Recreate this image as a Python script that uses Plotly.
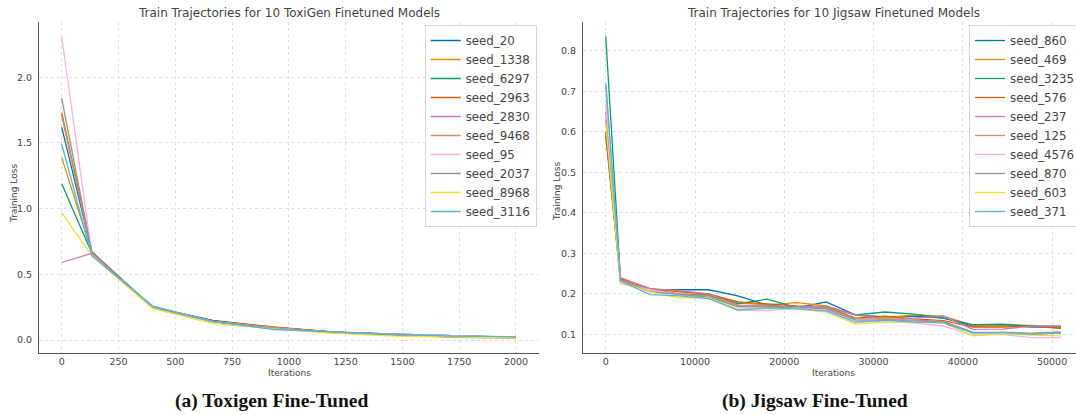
import plotly.graph_objects as go

# ---------------- data ----------------
tox_iters = [0, 133, 400, 667, 933, 1200, 1467, 1733, 2000]
tox_seeds = ["seed_20", "seed_1338", "seed_6297", "seed_2963", "seed_2830",
             "seed_9468", "seed_95", "seed_2037", "seed_8968", "seed_3116"]
tox_seed_20 = [1.62, 0.67, 0.25, 0.145, 0.095, 0.060, 0.045, 0.030, 0.020]
tox_seed_1338 = [1.39, 0.66, 0.245, 0.140, 0.095, 0.055, 0.040, 0.025, 0.020]
tox_seed_6297 = [1.19, 0.66, 0.250, 0.150, 0.095, 0.060, 0.045, 0.030, 0.020]
tox_seed_2963 = [1.73, 0.67, 0.245, 0.145, 0.100, 0.060, 0.040, 0.020, 0.015]
tox_seed_2830 = [0.59, 0.66, 0.250, 0.140, 0.090, 0.055, 0.045, 0.030, 0.020]
tox_seed_9468 = [1.71, 0.66, 0.245, 0.140, 0.095, 0.055, 0.040, 0.025, 0.015]
tox_seed_95 = [2.31, 0.65, 0.250, 0.140, 0.090, 0.055, 0.045, 0.030, 0.020]
tox_seed_2037 = [1.84, 0.66, 0.250, 0.140, 0.090, 0.055, 0.040, 0.025, 0.020]
tox_seed_8968 = [0.97, 0.64, 0.240, 0.125, 0.085, 0.050, 0.030, 0.020, 0.015]
tox_seed_3116 = [1.49, 0.64, 0.260, 0.140, 0.080, 0.060, 0.045, 0.030, 0.025]
tox_values = [tox_seed_20, tox_seed_1338, tox_seed_6297, tox_seed_2963, tox_seed_2830,
              tox_seed_9468, tox_seed_95, tox_seed_2037, tox_seed_8968, tox_seed_3116]

jig_iters = [0, 1645, 4935, 8225, 11515, 14805, 18095, 21385, 24675, 27965,
             31255, 34545, 37835, 41125, 44415, 47705, 51000]
jig_seeds = ["seed_860", "seed_469", "seed_3235", "seed_576", "seed_237",
             "seed_125", "seed_4576", "seed_870", "seed_603", "seed_371"]
jig_seed_860 = [0.59, 0.235, 0.210, 0.210, 0.210, 0.195, 0.172, 0.165, 0.180, 0.148, 0.143, 0.145, 0.140, 0.120, 0.122, 0.118, 0.118]
jig_seed_469 = [0.60, 0.232, 0.210, 0.200, 0.198, 0.178, 0.172, 0.178, 0.170, 0.148, 0.140, 0.148, 0.145, 0.122, 0.123, 0.122, 0.115]
jig_seed_3235 = [0.835, 0.238, 0.212, 0.198, 0.196, 0.175, 0.187, 0.166, 0.168, 0.148, 0.155, 0.150, 0.140, 0.124, 0.125, 0.120, 0.120]
jig_seed_576 = [0.60, 0.238, 0.213, 0.205, 0.200, 0.180, 0.175, 0.170, 0.168, 0.140, 0.145, 0.138, 0.134, 0.118, 0.118, 0.120, 0.115]
jig_seed_237 = [0.65, 0.240, 0.213, 0.208, 0.200, 0.172, 0.170, 0.168, 0.168, 0.148, 0.137, 0.140, 0.145, 0.112, 0.113, 0.120, 0.120]
jig_seed_125 = [0.715, 0.235, 0.210, 0.200, 0.195, 0.170, 0.168, 0.165, 0.165, 0.138, 0.138, 0.135, 0.132, 0.105, 0.105, 0.103, 0.106]
jig_seed_4576 = [0.67, 0.225, 0.210, 0.198, 0.190, 0.160, 0.158, 0.165, 0.160, 0.130, 0.132, 0.128, 0.120, 0.098, 0.100, 0.092, 0.092]
jig_seed_870 = [0.63, 0.232, 0.205, 0.198, 0.192, 0.168, 0.168, 0.168, 0.163, 0.135, 0.135, 0.132, 0.130, 0.105, 0.103, 0.100, 0.103]
jig_seed_603 = [0.62, 0.228, 0.205, 0.190, 0.190, 0.162, 0.163, 0.163, 0.155, 0.125, 0.130, 0.130, 0.128, 0.096, 0.102, 0.098, 0.096]
jig_seed_371 = [0.72, 0.232, 0.198, 0.195, 0.188, 0.160, 0.165, 0.163, 0.158, 0.130, 0.135, 0.130, 0.128, 0.103, 0.105, 0.100, 0.106]
jig_values = [jig_seed_860, jig_seed_469, jig_seed_3235, jig_seed_576, jig_seed_237,
              jig_seed_125, jig_seed_4576, jig_seed_870, jig_seed_603, jig_seed_371]

tox_xticks = [0, 250, 500, 750, 1000, 1250, 1500, 1750, 2000]
tox_yticks = [0.0, 0.5, 1.0, 1.5, 2.0]
jig_xticks = [0, 10000, 20000, 30000, 40000, 50000]
jig_yticks = [0.1, 0.2, 0.3, 0.4, 0.5, 0.6, 0.7, 0.8]

colors = ["#0173b2", "#de8f05", "#029e73", "#d55e00", "#cc78bc",
          "#ca9161", "#fbafe4", "#949494", "#ece133", "#56b4e9"]

# ---------------- figure ----------------
W, H = 1076, 415
fig = go.Figure()

for name, vals, c in zip(tox_seeds, tox_values, colors):
    fig.add_trace(go.Scatter(x=tox_iters, y=vals, mode="lines", name=name,
                             line=dict(color=c, width=1.3),
                             xaxis="x", yaxis="y", legend="legend"))
for name, vals, c in zip(jig_seeds, jig_values, colors):
    fig.add_trace(go.Scatter(x=jig_iters, y=vals, mode="lines", name=name,
                             line=dict(color=c, width=1.3),
                             xaxis="x2", yaxis="y2", legend="legend2"))

TXT = "#444444"
FONT = "DejaVu Sans"
y_dom = [1 - 352.7 / H, 1 - 21.7 / H]

axis_common = dict(
    showgrid=True, gridcolor="#e0e0e0", griddash="dot", gridwidth=0.8,
    zeroline=False, showline=True, linecolor="#555555", linewidth=1.2,
    ticks="", automargin=False,
    tickfont=dict(family=FONT, size=9.5, color=TXT),
)

legend_common = dict(
    y=1 - 25 / H, yanchor="top", xanchor="left",
    bgcolor="rgba(255,255,255,0.85)", bordercolor="#d4d4d4", borderwidth=1,
    font=dict(family=FONT, size=11.8, color=TXT), tracegroupgap=0, itemwidth=30,
)

fig.update_layout(
    width=W, height=H,
    margin=dict(l=0, r=0, t=0, b=0, autoexpand=False),
    paper_bgcolor="white", plot_bgcolor="white",
    font=dict(family=FONT, color=TXT),
    xaxis=dict(domain=[39 / W, 538.7 / W], range=[-100, 2100],
               tickvals=tox_xticks, tickformat="d", anchor="y",
               ticklabelstandoff=0, **axis_common),
    yaxis=dict(domain=y_dom, range=[-0.0967, 2.4233], tickvals=tox_yticks,
               tickformat=".1f", anchor="x", ticklabelstandoff=4, **axis_common),
    xaxis2=dict(domain=[583 / W, 1.0], range=[-2550, 52680],
                tickvals=jig_xticks, tickformat="d", anchor="y2",
                ticklabelstandoff=0, **axis_common),
    yaxis2=dict(domain=y_dom, range=[0.0546, 0.8716], tickvals=jig_yticks,
                tickformat=".1f", anchor="x2", ticklabelstandoff=4, **axis_common),
    legend=dict(x=424.7 / W, **legend_common),
    legend2=dict(x=969 / W, **legend_common),
    showlegend=True,
)

ann = []
# titles
ann.append(dict(text="Train Trajectories for 10 ToxiGen Finetuned Models",
                x=289 / W, y=1 - 13 / H, xref="paper", yref="paper",
                xanchor="center", yanchor="middle", showarrow=False,
                font=dict(family=FONT, size=12, color=TXT)))
ann.append(dict(text="Train Trajectories for 10 Jigsaw Finetuned Models",
                x=833 / W, y=1 - 13 / H, xref="paper", yref="paper",
                xanchor="center", yanchor="middle", showarrow=False,
                font=dict(family=FONT, size=12, color=TXT)))
# axis titles
for xc in (289, 833):
    ann.append(dict(text="Iterations", x=xc / W, y=1 - 373 / H, xref="paper", yref="paper",
                    xanchor="center", yanchor="middle", showarrow=False,
                    font=dict(family=FONT, size=9, color=TXT)))
for xc, yc in ((14, 194), (557, 192)):
    ann.append(dict(text="Training Loss", x=xc / W, y=1 - yc / H, xref="paper", yref="paper",
                    xanchor="center", yanchor="middle", showarrow=False, textangle=-90,
                    font=dict(family=FONT, size=9, color=TXT)))
# captions
ann.append(dict(text="<b>(a) Toxigen Fine-Tuned</b>", x=271 / W, y=1 - 401 / H,
                xref="paper", yref="paper", xanchor="center", yanchor="middle",
                showarrow=False, font=dict(family="Liberation Serif", size=19.5, color="#111111")))
ann.append(dict(text="<b>(b) Jigsaw Fine-Tuned</b>", x=815 / W, y=1 - 401 / H,
                xref="paper", yref="paper", xanchor="center", yanchor="middle",
                showarrow=False, font=dict(family="Liberation Serif", size=19.5, color="#111111")))
fig.update_layout(annotations=ann)

fig.write_html(
    "out.html",
    config={"displayModeBar": False},
    post_script="document.body.style.margin='0px';document.body.style.overflow='hidden';",
)
